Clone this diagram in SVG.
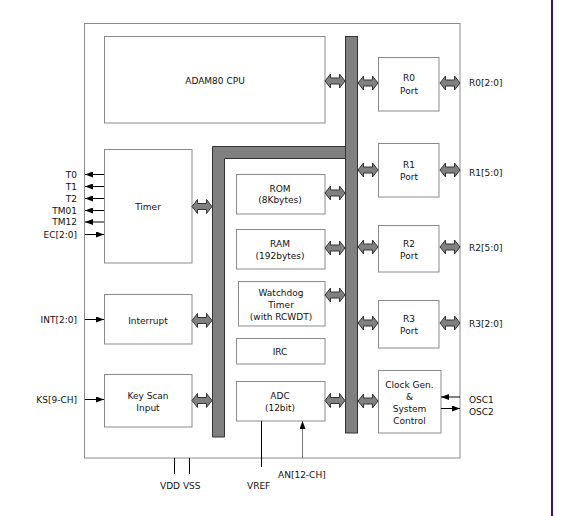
<svg xmlns="http://www.w3.org/2000/svg" width="572" height="516" viewBox="0 0 572 516">
<style>
.box{fill:#fff;stroke:#8a8a8a;stroke-width:1}
.bus{fill:#808080;stroke:#333;stroke-width:1}
.da{fill:#808080;stroke:#333;stroke-width:1;stroke-linejoin:round}
.t{font-family:"DejaVu Sans",Verdana,sans-serif;font-size:9px;fill:#111;text-anchor:middle}
.l{font-family:"DejaVu Sans",Verdana,sans-serif;font-size:9px;fill:#111}
.r{text-anchor:end}
.w{stroke:#000;stroke-width:1;fill:none}
</style>
<defs>
<path id="dar" d="M0,0 L5.5,-7 L5.5,-3 L14.5,-3 L14.5,-7 L20,0 L14.5,7 L14.5,3 L5.5,3 L5.5,7 Z"/>
<marker id="ah" viewBox="0 0 8 6" refX="8" refY="3" markerWidth="8" markerHeight="6" markerUnits="userSpaceOnUse" orient="auto">
<path d="M0,0 L8,3 L0,6 Z" fill="#000"/>
</marker>
</defs>
<rect width="572" height="516" fill="#fff"/>
<line x1="552" y1="0" x2="552" y2="516" stroke="#3010a0" stroke-width="2"/>

<g id="chip"><rect class="box" x="84.5" y="23.5" width="375.5" height="434.5"/></g>

<g id="buses">
<rect class="bus" x="345.5" y="36.5" width="12" height="396.5"/>
<path class="bus" d="M212.5,146.5 H345.5 V158.5 H224.5 V437 H212.5 Z"/>
</g>

<g id="cpu"><rect class="box" x="104.5" y="36.5" width="220.5" height="86.5"/><text class="t" x="215" y="83.5">ADAM80 CPU</text></g>
<g id="timer"><rect class="box" x="104.5" y="149.5" width="87.5" height="113.5"/><text class="t" x="148" y="210">Timer</text></g>
<g id="interrupt"><rect class="box" x="104.5" y="294.5" width="87.5" height="49.5"/><text class="t" x="148" y="324">Interrupt</text></g>
<g id="keyscan"><rect class="box" x="104.5" y="374.5" width="87.5" height="52.5"/><text class="t" x="148" y="399">Key Scan</text><text class="t" x="148" y="411">Input</text></g>
<g id="rom"><rect class="box" x="236.5" y="174.5" width="88.5" height="39.5"/><text class="t" x="280" y="192">ROM</text><text class="t" x="280" y="202.5">(8Kbytes)</text></g>
<g id="ram"><rect class="box" x="236.5" y="229.5" width="88.5" height="39.5"/><text class="t" x="280" y="246.5">RAM</text><text class="t" x="280" y="259">(192bytes)</text></g>
<g id="watchdog"><rect class="box" x="238.5" y="281.5" width="86.5" height="44.5"/><text class="t" x="281" y="296">Watchdog</text><text class="t" x="281" y="308">Timer</text><text class="t" x="281" y="320">(with RCWDT)</text></g>
<g id="irc"><rect class="box" x="236.5" y="338.5" width="88.5" height="25.5"/><text class="t" x="280" y="355">IRC</text></g>
<g id="adc"><rect class="box" x="236.5" y="381.5" width="88.5" height="39.5"/><text class="t" x="280" y="399">ADC</text><text class="t" x="280" y="411">(12bit)</text></g>
<g id="r0"><rect class="box" x="378.5" y="57.5" width="60.5" height="53.5"/><text class="t" x="409" y="81">R0</text><text class="t" x="409" y="93.5">Port</text></g>
<g id="r1"><rect class="box" x="378.5" y="143.5" width="60.5" height="53.5"/><text class="t" x="409" y="167.5">R1</text><text class="t" x="409" y="179.5">Port</text></g>
<g id="r2"><rect class="box" x="378.5" y="225.5" width="60.5" height="46.5"/><text class="t" x="409" y="247">R2</text><text class="t" x="409" y="258.5">Port</text></g>
<g id="r3"><rect class="box" x="378.5" y="300.5" width="60.5" height="47.5"/><text class="t" x="409" y="322">R3</text><text class="t" x="409" y="333.5">Port</text></g>
<g id="clock"><rect class="box" x="378.5" y="370.5" width="62.5" height="62.5"/><text class="t" x="409.5" y="387.5">Clock Gen.</text><text class="t" x="409.5" y="400">&amp;</text><text class="t" x="409.5" y="412">System</text><text class="t" x="409.5" y="424">Control</text></g>

<g id="connectors">
<use href="#dar" class="da" transform="translate(325,81)"/>
<use href="#dar" class="da" transform="translate(358,83)"/>
<use href="#dar" class="da" transform="translate(440,83)"/>
<use href="#dar" class="da" transform="translate(358,170)"/>
<use href="#dar" class="da" transform="translate(440,170)"/>
<use href="#dar" class="da" transform="translate(358,247)"/>
<use href="#dar" class="da" transform="translate(440,247)"/>
<use href="#dar" class="da" transform="translate(358,323)"/>
<use href="#dar" class="da" transform="translate(440,323)"/>
<use href="#dar" class="da" transform="translate(358,401)"/>
<use href="#dar" class="da" transform="translate(192,206.5)"/>
<use href="#dar" class="da" transform="translate(192,320.5)"/>
<use href="#dar" class="da" transform="translate(192,400.5)"/>
<use href="#dar" class="da" transform="translate(325,193)"/>
<use href="#dar" class="da" transform="translate(325,248)"/>
<use href="#dar" class="da" transform="translate(325,295)"/>
<use href="#dar" class="da" transform="translate(325,400.5)"/>
<line class="w" x1="104" y1="174.5" x2="85" y2="174.5" marker-end="url(#ah)"/>
<line class="w" x1="104" y1="186.5" x2="85" y2="186.5" marker-end="url(#ah)"/>
<line class="w" x1="104" y1="198.5" x2="85" y2="198.5" marker-end="url(#ah)"/>
<line class="w" x1="104" y1="210.5" x2="85" y2="210.5" marker-end="url(#ah)"/>
<line class="w" x1="104" y1="222" x2="85" y2="222" marker-end="url(#ah)"/>
<line class="w" x1="85" y1="234.5" x2="104" y2="234.5" marker-end="url(#ah)"/>
<line class="w" x1="85" y1="319.5" x2="104" y2="319.5" marker-end="url(#ah)"/>
<line class="w" x1="85" y1="399.5" x2="104" y2="399.5" marker-end="url(#ah)"/>
<line class="w" x1="460" y1="397" x2="441" y2="397" marker-end="url(#ah)"/>
<line class="w" x1="441" y1="408.5" x2="460" y2="408.5" marker-end="url(#ah)"/>
<line x1="302.5" y1="458" x2="302.5" y2="421" stroke="#777" stroke-width="1" marker-end="url(#ah)"/>
<line class="w" x1="261.5" y1="421" x2="261.5" y2="467"/>
<line class="w" x1="174.5" y1="458" x2="174.5" y2="474"/>
<line class="w" x1="189.5" y1="458" x2="189.5" y2="474"/>
</g>

<g id="labels">
<text class="l r" x="77" y="177.5">T0</text>
<text class="l r" x="77" y="189.5">T1</text>
<text class="l r" x="77" y="201.5">T2</text>
<text class="l r" x="77" y="213.5">TM01</text>
<text class="l r" x="77" y="225">TM12</text>
<text class="l r" x="77" y="238">EC[2:0]</text>
<text class="l r" x="77" y="322.5">INT[2:0]</text>
<text class="l r" x="77" y="402.5">KS[9-CH]</text>
<text class="l" x="469" y="86">R0[2:0]</text>
<text class="l" x="469" y="176">R1[5:0]</text>
<text class="l" x="469" y="251">R2[5:0]</text>
<text class="l" x="469" y="327">R3[2:0]</text>
<text class="l" x="469" y="402.5">OSC1</text>
<text class="l" x="469" y="415">OSC2</text>
<text class="l" x="160" y="489">VDD VSS</text>
<text class="l" x="247" y="489">VREF</text>
<text class="l" x="278" y="478">AN[12-CH]</text>
</g>
</svg>
